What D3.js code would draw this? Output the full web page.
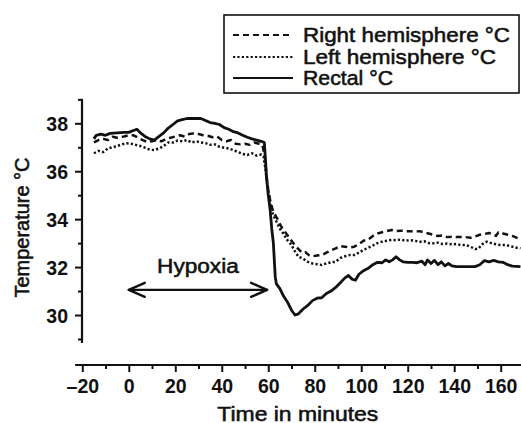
<!DOCTYPE html>
<html><head><meta charset="utf-8">
<script src="https://cdn.jsdelivr.net/npm/d3@7"></script>
<style>
html,body{margin:0;padding:0;background:#fff;}
svg{display:block;}
text{font-family:"Liberation Sans",Arial,Helvetica,sans-serif;fill:#111;}
</style></head>
<body>
<svg id="chart" width="521" height="423"></svg>
<script>
// ---- data (time in minutes, temperature °C) ----
const seriesNames = ["Right hemisphere °C", "Left hemisphere °C", "Rectal °C"];
const xTickValues = [-20, 0, 20, 40, 60, 80, 100, 120, 140, 160];
const xMinorTicks = [-10, 10, 30, 50, 70, 90, 110, 130, 150];
const yTickValues = [30, 32, 34, 36, 38];
const yMinorTicks = [29, 31, 33, 35, 37, 39];
const hypoxiaPeriod = [0, 59.5];
const hypoxiaLevel = 31.05;
const hypoxiaLabel = "Hypoxia";
const xTitle = "Time in minutes";
const yTitle = "Temperature °C";

const rectal = [[-15,37.35],[-14,37.5],[-12,37.55],[-10,37.5],[-8,37.58],[-5,37.6],[-2,37.62],[0,37.62],[2,37.7],[3.5,37.75],[5,37.6],[7,37.45],[9,37.35],[11,37.3],[13,37.45],[15,37.6],[17,37.8],[19,37.95],[21,38.1],[23,38.15],[25,38.2],[28,38.2],[31,38.2],[33,38.12],[35,38.03],[37,38.0],[39,37.95],[41,37.82],[43,37.75],[45,37.65],[47,37.6],[49,37.5],[51,37.42],[53,37.35],[55,37.3],[57,37.25],[58.3,37.2],[58.8,36.5],[59.2,35.8],[60,35.0],[60.8,34.4],[61.5,33.6],[62.2,33.0],[63,31.6],[63.5,31.3],[65,31.1],[66.5,30.8],[68.5,30.5],[70,30.2],[71.5,30.0],[73,30.05],[75,30.25],[77,30.4],[79,30.6],[81,30.7],[83,30.72],[85,30.9],[87,31.0],[89,31.15],[91,31.35],[93,31.55],[94.5,31.65],[96,31.5],[97.5,31.45],[99,31.7],[101,31.85],[103,31.95],[105,32.1],[107,32.2],[109,32.18],[110.5,32.3],[112,32.22],[113.5,32.3],[115,32.43],[116.5,32.3],[118,32.22],[120,32.2],[122,32.2],[124,32.18],[126,32.25],[127.5,32.1],[128.5,32.3],[130,32.15],[131.5,32.28],[133,32.1],[134.5,32.22],[136,32.05],[137.5,32.15],[139,32.05],[141,32.02],[145,32.02],[149,32.02],[151,32.1],[153,32.27],[155,32.22],[157,32.28],[159,32.22],[161,32.2],[163,32.1],[165,32.04],[168.5,32.02]];

const rightHemisphere = [[-15,37.2],[-13,37.3],[-11,37.35],[-9,37.3],[-7,37.44],[-5,37.4],[-2,37.45],[0,37.5],[2,37.5],[4,37.4],[6,37.3],[8,37.22],[10,37.25],[12,37.3],[14,37.25],[16,37.35],[18,37.4],[20,37.45],[22,37.5],[24,37.45],[26,37.55],[28,37.58],[30,37.55],[32,37.5],[34,37.48],[36,37.42],[38,37.45],[40,37.3],[42,37.25],[44,37.3],[46,37.15],[48,37.12],[50,37.15],[52,37.1],[54,37.2],[56,37.15],[57.5,37.1],[58.5,36.6],[59.3,35.8],[60,35.2],[61,34.7],[62.2,34.3],[64,34.0],[65.5,33.7],[67,33.5],[68.5,33.3],[70,33.1],[71.5,32.9],[73,32.75],[74.5,32.6],[76,32.62],[77.5,32.5],[79,32.45],[81,32.48],[83,32.5],[85,32.6],[87,32.7],[89,32.78],[91,32.88],[93,32.85],[95,32.82],[97,32.85],[99,32.95],[101,33.1],[103,33.15],[105,33.3],[107,33.4],[109,33.45],[111,33.5],[113,33.55],[115,33.5],[117,33.52],[119,33.5],[121,33.5],[123,33.48],[125,33.5],[127,33.45],[129,33.4],[131,33.35],[133,33.3],[135,33.32],[137,33.25],[139,33.27],[141,33.25],[143,33.25],[145,33.25],[147,33.22],[149,33.28],[151,33.35],[153,33.38],[155,33.42],[157,33.35],[158,33.3],[159,33.45],[161,33.4],[163,33.35],[165,33.3],[167,33.22],[168.5,33.2]];

const leftHemisphere = [[-15,36.75],[-13,36.85],[-11,36.8],[-9,36.95],[-7,37.0],[-5,37.05],[-3,37.12],[-1,37.17],[1,37.15],[3,37.1],[5,37.05],[7,36.98],[9,36.9],[11,36.88],[13,36.95],[15,37.05],[17,37.2],[19,37.2],[21,37.28],[23,37.25],[25,37.3],[27,37.2],[29,37.25],[31,37.2],[33,37.17],[35,37.1],[37,37.12],[39,37.02],[41,36.98],[43,36.95],[45,36.88],[47,36.8],[49,36.72],[51,36.68],[53,36.75],[55,36.65],[57,36.7],[58,36.6],[58.8,36.1],[59.5,35.5],[60.3,35.0],[61,34.6],[62,34.2],[63.5,33.9],[65,33.6],[66.5,33.4],[68,33.15],[70,32.92],[71.5,32.65],[73,32.43],[75,32.35],[77,32.22],[79,32.15],[81,32.12],[83,32.09],[85,32.15],[87,32.2],[89,32.22],[91,32.38],[93,32.45],[95,32.5],[97,32.5],[99,32.6],[101,32.72],[103,32.8],[105,32.9],[107,33.0],[109,33.06],[111,33.1],[113,33.13],[115,33.12],[117,33.15],[119,33.1],[121,33.12],[123,33.1],[125,33.05],[127,33.08],[129,33.0],[131,32.99],[133,33.02],[135,32.96],[137,32.98],[139,32.95],[141,32.96],[143,32.92],[145,32.92],[147,32.85],[149,32.75],[150.5,32.78],[152,32.95],[154,33.06],[156,33.0],[158,32.95],[160,32.92],[162,32.92],[164,32.88],[166,32.82],[168.5,32.78]];

const seriesData = [rightHemisphere, leftHemisphere, rectal];
const seriesDash = ["6,4", "2.2,2.2", null];
const seriesWidth = [2.5, 2.5, 2.8];

// ---- layout ----
const svg = d3.select("#chart");
const x = d3.scaleLinear().domain([-20, 160]).range([82.3, 500.7]);
const y = d3.scaleLinear().domain([30, 38]).range([315, 123.3]);
const ink = "#111";
const fmt = d => (d < 0 ? "\u2013" + Math.abs(d) : String(d));

// Y axis
const yAxisG = svg.append("g").attr("transform", "translate(82,0)");
yAxisG.append("line").attr("x1", 0).attr("x2", 0)
  .attr("y1", y(39.02)).attr("y2", y(28.83))
  .attr("stroke", ink).attr("stroke-width", 2.2);
yAxisG.append("g").call(d3.axisLeft(y).tickValues(yMinorTicks).tickSize(4).tickFormat(""))
  .call(g => g.select(".domain").remove())
  .call(g => g.selectAll("line").attr("stroke", ink).attr("stroke-width", 2));
yAxisG.append("g").call(d3.axisLeft(y).tickValues(yTickValues).tickSize(7).tickFormat(fmt))
  .call(g => g.select(".domain").remove())
  .call(g => g.selectAll("line").attr("stroke", ink).attr("stroke-width", 2))
  .call(g => g.selectAll("text").attr("x", -14).attr("dy", "0.36em")
    .attr("font-size", 19.5).attr("font-weight", "bold").attr("fill", ink)
    .attr("font-family", "Liberation Sans, Arial, sans-serif"));

// X axis
const xAxisG = svg.append("g").attr("transform", "translate(0,365)");
xAxisG.append("line").attr("x1", x(-23.1)).attr("x2", x(170))
  .attr("y1", 0).attr("y2", 0).attr("stroke", ink).attr("stroke-width", 2.2);
xAxisG.append("g").call(d3.axisBottom(x).tickValues(xMinorTicks).tickSize(4).tickFormat(""))
  .call(g => g.select(".domain").remove())
  .call(g => g.selectAll("line").attr("stroke", ink).attr("stroke-width", 2));
xAxisG.append("g").call(d3.axisBottom(x).tickValues(xTickValues).tickSize(7).tickFormat(fmt))
  .call(g => g.select(".domain").remove())
  .call(g => g.selectAll("line").attr("stroke", ink).attr("stroke-width", 2))
  .call(g => g.selectAll("text").attr("y", 27.5).attr("dy", "0")
    .attr("font-size", 19.5).attr("font-weight", "bold").attr("fill", ink)
    .attr("font-family", "Liberation Sans, Arial, sans-serif"));

// Axis titles
const titleStyle = sel => sel.attr("font-size", 20.5).attr("fill", ink)
  .attr("stroke", ink).attr("stroke-width", 0.55).attr("lengthAdjust", "spacingAndGlyphs");
svg.append("text").text(xTitle).attr("x", 297.8).attr("y", 420.5)
  .attr("text-anchor", "middle").call(titleStyle).attr("textLength", 161);
svg.append("text").text(yTitle)
  .attr("transform", "translate(29,227.5) rotate(-90)")
  .attr("text-anchor", "middle").call(titleStyle).attr("textLength", 140);

// Lines
const line = d3.line().x(d => x(d[0])).y(d => y(d[1]));
svg.append("g").selectAll("path").data(seriesData).join("path")
  .attr("d", line).attr("fill", "none").attr("stroke", ink)
  .attr("stroke-width", (d, i) => seriesWidth[i])
  .attr("stroke-dasharray", (d, i) => seriesDash[i])
  .attr("stroke-linejoin", "round");

// Hypoxia arrow
const ay = y(hypoxiaLevel);
const ax0 = x(hypoxiaPeriod[0]), ax1 = x(hypoxiaPeriod[1]);
const arrowG = svg.append("g").attr("stroke", ink).attr("stroke-width", 2.4)
  .attr("fill", "none").attr("stroke-linecap", "round").attr("stroke-linejoin", "round");
arrowG.append("line").attr("x1", ax0).attr("x2", ax1).attr("y1", ay).attr("y2", ay);
arrowG.append("path").attr("d", `M${ax0 + 16},${ay - 7}L${ax0},${ay}L${ax0 + 16},${ay + 7}`);
arrowG.append("path").attr("d", `M${ax1 - 16},${ay - 7}L${ax1},${ay}L${ax1 - 16},${ay + 7}`);
svg.append("text").text(hypoxiaLabel).attr("x", x((hypoxiaPeriod[0] + hypoxiaPeriod[1]) / 2))
  .attr("y", 273.3).attr("text-anchor", "middle").call(titleStyle).attr("textLength", 81.7);

// Legend
const lg = svg.append("g");
lg.append("rect").attr("x", 224).attr("y", 15).attr("width", 295).attr("height", 78)
  .attr("fill", "#fff").attr("stroke", ink).attr("stroke-width", 1.6);
const legendRowY = [35, 57, 78];
const legendTextLen = [207, 193, 90];
seriesNames.forEach((name, i) => {
  lg.append("line").attr("x1", 233).attr("x2", 293)
    .attr("y1", legendRowY[i]).attr("y2", legendRowY[i])
    .attr("stroke", ink).attr("stroke-width", 2.2)
    .attr("stroke-dasharray", seriesDash[i]);
  lg.append("text").text(name).attr("x", 303).attr("y", legendRowY[i] + 6.8)
    .call(titleStyle).attr("textLength", legendTextLen[i]);
});
</script>
</body></html>
